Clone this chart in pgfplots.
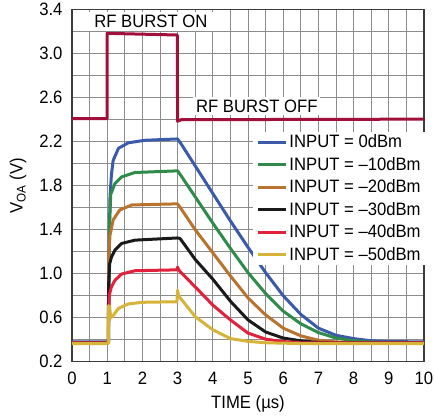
\documentclass[border=0pt]{standalone}
\usepackage{fontspec}
\setmainfont{Liberation Sans}[FakeStretch=0.93]
\usepackage{pgfplots}
\pgfplotsset{compat=1.18}

\definecolor{burst}{RGB}{160,16,58}
\definecolor{cblue}{RGB}{58,91,169}
\definecolor{cgreen}{RGB}{46,139,74}
\definecolor{corange}{RGB}{184,115,47}
\definecolor{cblack}{RGB}{26,26,26}
\definecolor{cred}{RGB}{226,33,58}
\definecolor{cyellow}{RGB}{214,180,58}
\definecolor{gridgray}{RGB}{140,140,140}
\definecolor{axisgray}{RGB}{60,60,60}
\newcommand\lbl{\fontsize{18}{21}\selectfont}

\begin{document}
\begin{tikzpicture}
\begin{axis}[
  scale only axis,
  width=352bp, height=352bp,
  xmin=0, xmax=10, ymin=0.2, ymax=3.4,
  xtick={0,1,2,3,4,5,6,7,8,9,10},
  minor xtick={0.5,1.5,2.5,3.5,4.5,5.5,6.5,7.5,8.5,9.5},
  ytick={0.2,0.6,1.0,1.4,1.8,2.2,2.6,3.0,3.4},
  minor ytick={0.4,0.8,1.2,1.6,2.0,2.4,2.8,3.2},
  grid=both,
  grid style={gridgray, line width=0.9bp},
  major tick length=0pt, minor tick length=0pt,
  axis line style={axisgray, line width=1.5bp},
  /pgf/number format/assume math mode=true,
  tick label style={font=\lbl},
  yticklabel style={/pgf/number format/fixed, /pgf/number format/fixed zerofill,
    /pgf/number format/precision=1, xshift=-6bp},
  xticklabel style={yshift=-7bp},
  label style={font=\lbl},
  xlabel={TIME (µs)},
  ylabel={V\textsubscript{OA} (V)},
  xlabel style={yshift=-4bp},
  ylabel style={yshift=6bp},
  legend style={at={(axis cs:5.15,2.29)}, anchor=north west, draw=none, fill=white,
    font=\lbl, inner xsep=3bp, inner ysep=1bp, row sep=4bp},
  legend cell align=left,
  legend image code/.code={\draw[#1, line width=3bp] (0bp,0bp) -- (28bp,0bp);},
  every axis plot/.append style={line width=3bp, line join=round},
]
% RF burst
\addplot[burst, forget plot] coordinates {
  (0,2.41) (1.0,2.41) (1.0,3.185) (2.99,3.17) (3.0,2.385) (3.1,2.40) (10,2.405)
};
% INPUT = 0dBm
\addplot[cblue] coordinates {
  (0,0.38) (1.04,0.38) (1.06,1.3) (1.08,1.70) (1.12,1.9) (1.17,2.03) (1.32,2.14)
  (1.6,2.19) (2.07,2.213) (3.0,2.225) (3.1,2.18) (4.0,1.73) (4.5,1.48) (5.0,1.24)
  (5.5,1.01) (6.0,0.80) (6.5,0.63) (7.0,0.505) (7.5,0.44) (8.0,0.41) (8.5,0.39)
  (9.0,0.383) (10,0.38)
};
\addlegendentry{INPUT = 0dBm}
% INPUT = -10dBm
\addplot[cgreen] coordinates {
  (0,0.37) (1.04,0.37) (1.06,1.4) (1.1,1.72) (1.22,1.82) (1.41,1.88) (1.79,1.92)
  (3.0,1.935) (3.1,1.89) (4.0,1.46) (4.5,1.23) (5.0,1.01) (5.5,0.82) (6.0,0.66)
  (6.5,0.545) (7.0,0.465) (7.5,0.415) (8.0,0.39) (8.5,0.378) (9.0,0.373) (10,0.37)
};
\addlegendentry{INPUT = --10dBm}
% INPUT = -20dBm
\addplot[corange] coordinates {
  (0,0.37) (1.03,0.37) (1.05,1.2) (1.08,1.35) (1.17,1.49) (1.36,1.58) (1.70,1.625)
  (3.0,1.635) (3.1,1.59) (3.5,1.40) (4.0,1.19) (4.5,0.98) (5.0,0.78) (5.5,0.625)
  (6.0,0.505) (6.5,0.435) (7.0,0.395) (7.5,0.38) (8.0,0.372) (10,0.37)
};
\addlegendentry{INPUT = --20dBm}
% INPUT = -30dBm
\addplot[cblack] coordinates {
  (0,0.37) (1.03,0.37) (1.04,0.9) (1.07,1.09) (1.12,1.15) (1.22,1.215) (1.41,1.275)
  (1.79,1.305) (3.0,1.325) (3.07,1.32) (3.5,1.13) (4.0,0.95) (4.5,0.75) (5.0,0.58)
  (5.5,0.47) (6.0,0.415) (6.5,0.39) (7.0,0.375) (7.5,0.37) (10,0.37)
};
\addlegendentry{INPUT = --30dBm}
% INPUT = -40dBm
\addplot[cred] coordinates {
  (0,0.37) (1.03,0.37) (1.04,0.58) (1.06,0.806) (1.12,0.88) (1.22,0.94) (1.41,0.997)
  (1.79,1.027) (2.98,1.035) (3.0,1.06) (3.03,1.035) (3.07,1.02) (3.5,0.88)
  (4.0,0.715) (4.5,0.58) (5.0,0.46) (5.5,0.405) (6.0,0.383) (6.5,0.372) (10,0.37)
};
\addlegendentry{INPUT = --40dBm}
% INPUT = -50dBm
\addplot[cyellow] coordinates {
  (0,0.365) (1.03,0.365) (1.04,0.71) (1.07,0.70) (1.10,0.60) (1.15,0.61) (1.32,0.685)
  (1.6,0.725) (2.0,0.74) (2.98,0.745) (3.0,0.85) (3.03,0.80) (3.1,0.77) (3.5,0.61)
  (4.0,0.49) (4.5,0.41) (5.0,0.385) (5.5,0.372) (6.5,0.365) (10,0.365)
};
\addlegendentry{INPUT = --50dBm}
\node[fill=white, inner xsep=6bp, inner ysep=3bp, font=\lbl]
  at (axis cs:2.24,3.29) {RF BURST ON};
\node[fill=white, inner xsep=3bp, inner ysep=3bp, font=\lbl]
  at (axis cs:5.25,2.525) {RF BURST OFF};
\end{axis}
\pgfresetboundingbox
\path[use as bounding box] (current axis.south west) ++(-72bp,-55.3bp) rectangle ++(434bp,417bp);
\end{tikzpicture}
\end{document}
